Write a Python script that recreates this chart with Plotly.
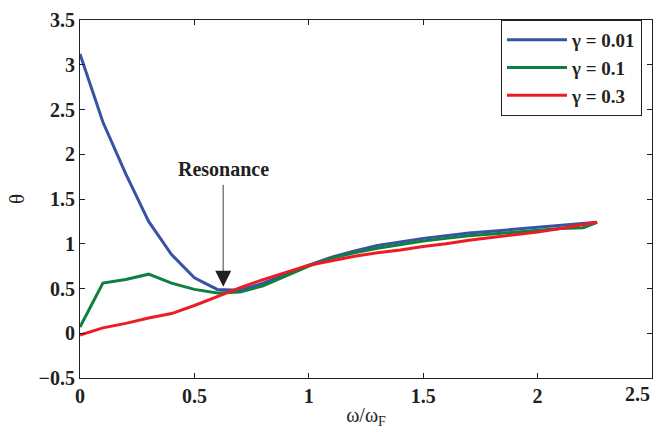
import plotly.graph_objects as go

x = [0.0, 0.1, 0.2, 0.3, 0.4, 0.5, 0.6, 0.7, 0.8, 0.9, 1.0, 1.1, 1.2, 1.3,
     1.4, 1.5, 1.6, 1.7, 1.8, 1.9, 2.0, 2.1, 2.2, 2.26]
theta_001 = [3.12, 2.36, 1.78, 1.25, 0.88, 0.62, 0.49, 0.48, 0.56, 0.66, 0.76, 0.85,
             0.92, 0.98, 1.02, 1.06, 1.09, 1.12, 1.14, 1.16, 1.18, 1.20, 1.22, 1.24]
theta_01 = [0.07, 0.56, 0.60, 0.66, 0.56, 0.49, 0.45, 0.46, 0.53, 0.64, 0.75, 0.84,
            0.90, 0.95, 0.99, 1.03, 1.06, 1.09, 1.11, 1.13, 1.15, 1.17, 1.18, 1.24]
theta_03 = [-0.02, 0.06, 0.11, 0.17, 0.22, 0.31, 0.41, 0.51, 0.60, 0.68, 0.76, 0.81,
            0.86, 0.90, 0.93, 0.97, 1.00, 1.04, 1.07, 1.10, 1.13, 1.17, 1.21, 1.24]
series_names = ["γ = 0.01", "γ = 0.1", "γ = 0.3"]
series_colors = ["#3953A4", "#0E8040", "#ED1C24"]
x_ticks = [0, 0.5, 1, 1.5, 2, 2.5]
y_ticks = [-0.5, 0, 0.5, 1, 1.5, 2, 2.5, 3, 3.5]

FONT = "Liberation Serif"
INK = "#231F20"

fig = go.Figure()
for ys, name, col in zip([theta_001, theta_01, theta_03], series_names, series_colors):
    fig.add_trace(go.Scatter(x=x, y=ys, mode="lines", name=f"<b>{name}</b>",
                             line=dict(color=col, width=3)))

# Resonance annotation
fig.add_annotation(x=0.626, y=1.84, text="<b>Resonance</b>", showarrow=False,
                   font=dict(family=FONT, size=20, color=INK))
fig.add_shape(type="line", x0=0.626, x1=0.626, y0=1.66, y1=0.58,
              line=dict(color="#808080", width=1.5))
fig.add_annotation(x=0.626, y=0.52, ax=0.626, ay=0.64, axref="x", ayref="y",
                   text="", showarrow=True, arrowhead=2, arrowsize=1.6,
                   arrowwidth=2, arrowcolor=INK)

axis_common = dict(showline=True, linecolor=INK, linewidth=1.2, mirror="ticks",
                   ticks="inside", ticklen=5, tickcolor=INK, showgrid=False,
                   zeroline=False, automargin=False,
                   tickfont=dict(family=FONT, size=20, color=INK))

# last x tick label is drawn right-aligned at the axis end (as in the reference)
x_ticktext = [f"<b>{v:g}</b>" for v in x_ticks[:-1]] + [""]
fig.update_xaxes(range=[0, 2.5], tickvals=x_ticks, ticktext=x_ticktext,
                 title=dict(text="ω/ω<sub>F</sub>", font=dict(family=FONT, size=20, color=INK),
                            standoff=4),
                 **axis_common)
fig.add_annotation(x=1.0, xref="paper", y=0, yref="paper",
                   text=f"<b>{x_ticks[-1]:g}</b>", showarrow=False,
                   xanchor="right", yanchor="top", yshift=-3,
                   font=dict(family=FONT, size=20, color=INK))
fig.update_yaxes(range=[-0.5, 3.5], tickvals=y_ticks,
                 ticktext=[f"<b>{v:g}</b>".replace("-", "−") for v in y_ticks],
                 title=dict(text="θ", font=dict(family=FONT, size=21, color=INK),
                            standoff=8),
                 **axis_common)

fig.update_layout(
    width=655, height=429,
    margin=dict(l=80, r=3, t=20, b=51),
    plot_bgcolor="white", paper_bgcolor="white",
    legend=dict(x=0.9825, y=1.0, xanchor="right", yanchor="top",
                bgcolor="white", bordercolor=INK, borderwidth=1,
                font=dict(family=FONT, size=19, color=INK),
                tracegroupgap=0, itemwidth=60),
    showlegend=True,
)

fig.write_html("out.html", config={"displayModeBar": False},
               post_script="document.body.style.margin='0';document.body.style.padding='0';")
